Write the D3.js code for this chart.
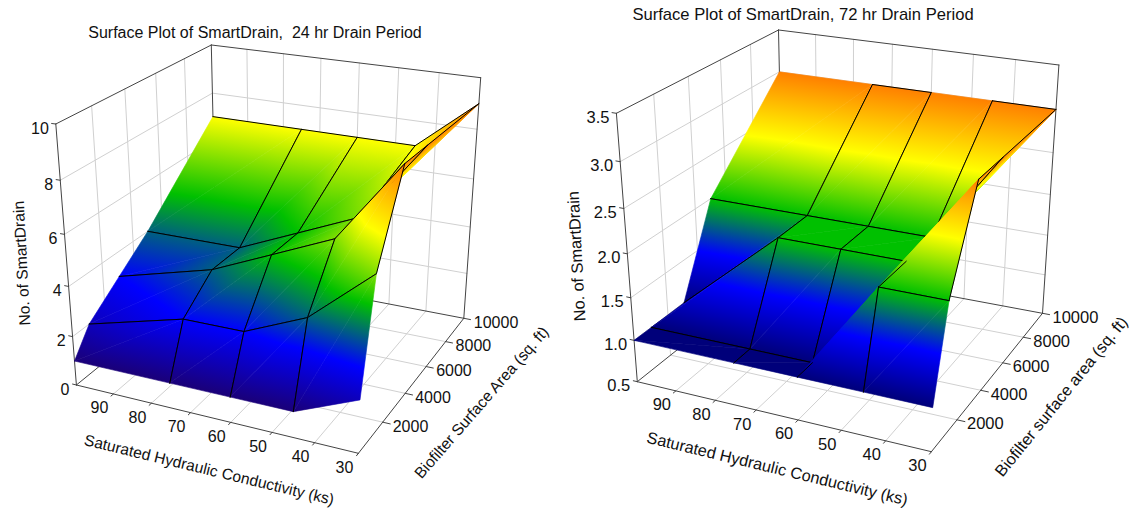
<!DOCTYPE html>
<html>
<head>
<meta charset="utf-8">
<script src="https://cdn.jsdelivr.net/npm/d3@7"></script>
<style>
body { margin:0; background:#fff; }
text { font-family:"Liberation Sans",Arial,sans-serif; fill:#111; }
</style>
</head>
<body>
<script>
// grid of the surfaces
var kValues = [100,75,60,45,30];
var areaValues = [0,1000,3000,5000,10000];
// rows = area, columns = k
var drains24 = [
	[1,1,1,1,2],
	[2,3,3,4,6],
	[3,4,5,6,9],
	[4,4,5,6,9],
	[7,7,7,7,9]
];
var drains72 = [
	[1,1,1,1,1],
	[1,1,1,2,2],
	[1,2,2,2,3],
	[2,2,2,2,3],
	[3,3,3,3,3]
];
var kTicks = [90,80,70,60,50,40,30];
var areaTicks = [2000,4000,6000,8000,10000];
var zTicks24 = [0,2,4,6,8,10];
var zTicks72 = [0.5,1.0,1.5,2.0,2.5,3.0,3.5];

var colorStops = [0,0.25,0.5,0.75,1];
var colorRamp = ["#00007a","#0000ff","#00c000","#ffff00","#ff8000"];

var svg = d3.select("body").append("svg").attr("width",1131).attr("height",508);
var defs = svg.append("defs");
var gradCount = 0;

// corner of the box -> place on the page, key is x y z (x=k, y=area, z=value)
function makeProjection(corners,depth) {
	return function(x,y,z) {
		var sx=0, sy=0, sw=0;
		[0,1].forEach(function(i) { [0,1].forEach(function(j) { [0,1].forEach(function(l) {
			var b = (i?x:1-x)*(j?y:1-y)*(l?z:1-z);
			var w = (1+depth[0]*i+depth[1]*j+depth[2]*l)*b;
			var c = corners[""+i+j+l];
			sx += w*c[0]; sy += w*c[1]; sw += w;
		}); }); });
		return [sx/sw, sy/sw];
	};
}

function drawPlot(o) {
	var g = svg.append("g");
	var xs = d3.scaleLinear().domain([100,30]).range([0,1]);
	var ys = d3.scaleLinear().domain([0,10000]).range([0,1]);
	var zs = d3.scaleLinear().domain(d3.extent(o.zTicks)).range([0,1]);
	var valueRange = d3.extent(d3.merge(o.values));
	var colorFrac = d3.scaleLinear().domain(valueRange).range([0,1]);
	var ramp = colorRamp.slice();
	ramp[0] = o.lowColor;
	var color = d3.scaleLinear().domain(colorStops).range(ramp);
	var p = makeProjection(o.corners,o.depth);
	var line = d3.line();

	function seg(parent,a,b,col,w) {
		parent.append("path").attr("d",line([a,b])).attr("fill","none").attr("stroke",col)
			.attr("stroke-width",w).attr("stroke-linecap","round");
	}

	// flat triangle with its colour running along the slope
	function triangle(parent,pts,vals) {
		var dx1=pts[1][0]-pts[0][0], dy1=pts[1][1]-pts[0][1], dx2=pts[2][0]-pts[0][0], dy2=pts[2][1]-pts[0][1];
		var dv1=vals[1]-vals[0], dv2=vals[2]-vals[0];
		var det = dx1*dy2-dx2*dy1;
		var fill;
		if ((dv1==0 && dv2==0) || Math.abs(det)<1) {
			fill = color(colorFrac(d3.mean(vals)));
		} else {
			var A = (dv1*dy2-dv2*dy1)/det, B = (dx1*dv2-dx2*dv1)/det, len = A*A+B*B;
			var id = "grad"+(gradCount++);
			var grad = defs.append("linearGradient").attr("id",id).attr("gradientUnits","userSpaceOnUse")
				.attr("x1",pts[0][0]+(valueRange[0]-vals[0])*A/len).attr("y1",pts[0][1]+(valueRange[0]-vals[0])*B/len)
				.attr("x2",pts[0][0]+(valueRange[1]-vals[0])*A/len).attr("y2",pts[0][1]+(valueRange[1]-vals[0])*B/len);
			colorStops.forEach(function(s,i) {
				grad.append("stop").attr("offset",s).attr("stop-color",ramp[i]);
			});
			fill = "url(#"+id+")";
		}
		parent.append("polygon").attr("points",pts.join(" "))
			.attr("fill",fill).attr("stroke",fill).attr("stroke-width",0.6).attr("stroke-linejoin","round");
	}

	// walls and floor grid
	kTicks.slice(0,6).forEach(function(k) {
		var x = xs(k);
		seg(g,p(x,0,0),p(x,1,0),"#d0d0d0",1);
		seg(g,p(x,1,0),p(x,1,1),"#d0d0d0",1);
	});
	areaTicks.slice(0,4).forEach(function(a) {
		var y = ys(a);
		seg(g,p(0,y,0),p(1,y,0),"#d0d0d0",1);
		seg(g,p(0,y,0),p(0,y,1),"#d0d0d0",1);
	});
	o.zTicks.slice(1,-1).forEach(function(v) {
		var z = zs(v);
		seg(g,p(0,0,z),p(0,1,z),"#d0d0d0",1);
		seg(g,p(0,1,z),p(1,1,z),"#d0d0d0",1);
	});

	// box edges
	[[[0,0,0],[0,0,1]],[[0,0,0],[1,0,0]],[[1,0,0],[1,1,0]],[[1,1,0],[1,1,1]],[[1,1,1],[0,1,1]],
	 [[0,1,1],[0,0,1]],[[0,1,1],[0,1,0]],[[0,0,0],[0,1,0]],[[0,1,0],[1,1,0]]].forEach(function(e) {
		seg(g,p.apply(null,e[0]),p.apply(null,e[1]),"#444",1);
	});

	// ticks and labels
	kTicks.forEach(function(k) {
		var x = xs(k);
		seg(g,p(x,0,0),p(x,-0.015,0),"#444",1);
		var q = p(x,0,0);
		g.append("text").attr("x",q[0]-14).attr("y",q[1]+19.5).attr("text-anchor","middle")
			.attr("font-size",o.tickSize).text(k);
	});
	areaTicks.forEach(function(a) {
		var y = ys(a);
		seg(g,p(1,y,0),p(1.025,y,0),"#444",1);
		var q = p(1,y,0);
		g.append("text").attr("x",q[0]+10).attr("y",q[1]+9.5).attr("font-size",o.tickSize).text(a);
	});
	o.zTicks.forEach(function(v) {
		var q = p(0,0,zs(v));
		seg(g,q,p(-0.015,0,zs(v)),"#444",1);
		g.append("text").attr("x",q[0]-7).attr("y",q[1]+9.5).attr("text-anchor","end")
			.attr("font-size",o.tickSize).text(o.zFormat(v));
	});

	// surface, far cells first. each cell is two flat triangles, the far one first
	function node(r,c) {
		return p(xs(kValues[c]),ys(areaValues[r]),zs(o.values[r][c]));
	}
	function rowLine(r,c) {
		return !o.noLine.some(function(h) { return h[0]==r && h[1]==c; });
	}
	for (var r=areaValues.length-2; r>=0; r--) {
		for (var c=0; c<kValues.length-1; c++) {
			var cell = g.append("g");
			var n00=node(r,c), n10=node(r,c+1), n01=node(r+1,c), n11=node(r+1,c+1);
			var v00=o.values[r][c], v10=o.values[r][c+1], v01=o.values[r+1][c], v11=o.values[r+1][c+1];
			triangle(cell,[n00,n11,n01],[v00,v11,v01]);
			triangle(cell,[n00,n10,n11],[v00,v10,v11]);
			// mesh lines: not on the outer rim at the front and left
			if (r>0 && rowLine(r,c)) seg(cell,n00,n10,"#000",1);
			if (rowLine(r+1,c)) seg(cell,n01,n11,"#000",1);
			if (c>0) seg(cell,n00,n01,"#000",1);
			if (c<kValues.length-2 || r>0) seg(cell,n10,n11,"#000",1);
		}
	}

	// titles
	g.append("text").attr("x",o.title[1]).attr("y",o.title[2]).attr("text-anchor","middle")
		.attr("font-size",o.titleSize).text(o.title[0]);
	o.axisTitles.forEach(function(t) {
		g.append("text").attr("text-anchor","middle").attr("font-size",o.labelSize)
			.attr("transform","translate("+t[1]+","+t[2]+") rotate("+t[3]+")").text(t[0]);
	});
}

drawPlot({
	values: drains24,
	zTicks: zTicks24,
	zFormat: d3.format("d"),
	lowColor: "#1a0078",
	noLine: [],
	tickSize: 16, titleSize: 16, labelSize: 15.6,
	depth: [-0.093,0.18,-0.09],
	corners: {
		"000":[76.4,385], "001":[55.8,124], "100":[358.4,453.3], "101":[367,163],
		"010":[216.5,271], "011":[211.3,45], "110":[463.8,318.3], "111":[480.7,77.7]
	},
	title: ["Surface Plot of SmartDrain,\u00a0 24 hr Drain Period",255,38],
	axisTitles: [
		["No. of SmartDrain",27,263,-93],
		["Saturated Hydraulic Conductivity (ks)",208,475,13.6],
		["Biofilter Surface Area (sq. ft)",485.5,406,-49]
	]
});

drawPlot({
	values: drains72,
	zTicks: zTicks72,
	zFormat: d3.format(".1f"),
	lowColor: "#00007a",
	noLine: [[1,2],[2,3],[4,0],[4,2]],
	tickSize: 16.5, titleSize: 16.6, labelSize: 16.3,
	depth: [-0.095,0.178,-0.09],
	corners: {
		"000":[637.3,381.7], "001":[616.4,113.3], "100":[931.4,451.7], "101":[940,163],
		"010":[783.5,265], "011":[778.5,30], "110":[1042.5,313.3], "111":[1058.9,65]
	},
	title: ["Surface Plot of SmartDrain, 72 hr Drain Period",803,20],
	axisTitles: [
		["No. of SmartDrain",582,256,-93],
		["Saturated Hydraulic Conductivity (ks)",776,474,13.6],
		["Biofilter surface area (sq. ft)",1065.5,400,-51]
	]
});
</script>
</body>
</html>
